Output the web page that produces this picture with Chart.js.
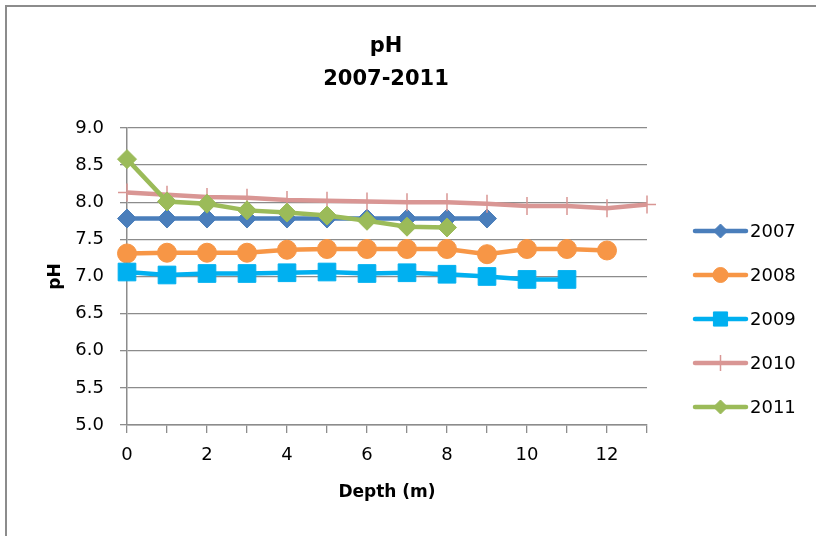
<!DOCTYPE html>
<html>
<head>
<meta charset="utf-8">
<script src="https://cdn.jsdelivr.net/npm/chart.js@4/dist/chart.umd.min.js"></script>
<style>
  html, body { margin: 0; padding: 0; background: #ffffff; }
  canvas { display: block; }
</style>
</head>
<body>
<canvas id="c" width="816" height="536"></canvas>
<script>
// ---- Data ----
const depths = [0, 1, 2, 3, 4, 5, 6, 7, 8, 9, 10, 11, 12, 13];
const seriesNames = ['2007', '2008', '2009', '2010', '2011'];
const ph2007 = [7.78, 7.78, 7.78, 7.78, 7.78, 7.78, 7.78, 7.78, 7.78, 7.78];
const ph2008 = [7.31, 7.32, 7.32, 7.32, 7.36, 7.37, 7.37, 7.37, 7.37, 7.30, 7.37, 7.37, 7.35];
const ph2009 = [7.06, 7.02, 7.04, 7.04, 7.05, 7.06, 7.04, 7.05, 7.03, 7.00, 6.96, 6.96];
const ph2010 = [8.13, 8.10, 8.07, 8.06, 8.03, 8.02, 8.01, 8.00, 8.00, 7.98, 7.95, 7.95, 7.92, 7.97];
const ph2011 = [8.58, 8.01, 7.98, 7.89, 7.86, 7.82, 7.75, 7.67, 7.66];
const yTicks = [5.0, 5.5, 6.0, 6.5, 7.0, 7.5, 8.0, 8.5, 9.0];
const xTickLabels = [0, 2, 4, 6, 8, 10, 12];

const seriesValues = [ph2007, ph2008, ph2009, ph2010, ph2011];
const colors = ['#4a7ebb', '#f79646', '#00b0f0', '#d99694', '#9bbb59'];
const styles = ['rectRot', 'circle', 'rect', 'cross', 'rectRot'];
const radii = [9.5, 9.5, 12.5, 9, 9.5];
const legendRadii = [7, 7.5, 10, 8, 7];
const borderWs = [1, 1, 1, 1.5, 1];

const FONT = "'DejaVu Sans', sans-serif";

const datasets = seriesNames.map((name, i) => ({
  label: name,
  data: seriesValues[i].map((v, k) => ({ x: depths[k], y: v })),
  borderColor: colors[i],
  backgroundColor: colors[i],
  borderWidth: 4.5,
  pointStyle: styles[i],
  pointRadius: radii[i],
  pointBorderWidth: borderWs[i],
  pointBorderColor: colors[i],
  pointBackgroundColor: colors[i],
  tension: 0,
  clip: false,
  order: seriesNames.length - i
}));

const framePlugin = {
  id: 'frame',
  beforeDraw(chart) {
    const ctx = chart.ctx;
    ctx.save();
    ctx.fillStyle = '#ffffff';
    ctx.fillRect(0, 0, chart.width, chart.height);
    ctx.strokeStyle = '#8c8c8c';
    ctx.lineWidth = 2;
    ctx.beginPath();
    ctx.moveTo(6, 536);
    ctx.lineTo(6, 6);
    ctx.lineTo(816, 6);
    ctx.stroke();
    ctx.restore();
  }
};

const legendPlugin = {
  id: 'sideLegend',
  afterDraw(chart) {
    const ctx = chart.ctx;
    const x0 = 695, x1 = 746, yStart = 231, gap = 44;
    ctx.save();
    chart.data.datasets.forEach((ds, i) => {
      const y = yStart + i * gap;
      ctx.strokeStyle = ds.borderColor;
      ctx.lineWidth = 4.5;
      ctx.lineCap = 'round';
      ctx.beginPath();
      ctx.moveTo(x0, y);
      ctx.lineTo(x1, y);
      ctx.stroke();
      ctx.fillStyle = ds.backgroundColor;
      ctx.strokeStyle = ds.borderColor;
      ctx.lineWidth = ds.pointBorderWidth;
      ctx.lineCap = 'butt';
      Chart.helpers.drawPoint(ctx, {
        pointStyle: ds.pointStyle,
        radius: legendRadii[i],
        rotation: 0,
        borderWidth: ds.pointBorderWidth
      }, (x0 + x1) / 2, y);
      ctx.fillStyle = '#000000';
      ctx.font = "18px " + FONT;
      ctx.textBaseline = 'middle';
      ctx.textAlign = 'left';
      ctx.fillText(ds.label, 750, y + 1);
    });
    ctx.restore();
  }
};

new Chart(document.getElementById('c'), {
  type: 'line',
  data: { datasets },
  plugins: [framePlugin, legendPlugin],
  options: {
    responsive: false,
    animation: false,
    events: [],
    layout: { padding: { left: 0, right: 44, top: 0, bottom: 0 } },
    plugins: {
      legend: { display: false },
      tooltip: { enabled: false },
      title: {
        display: true,
        text: ['pH', '2007-2011'],
        color: '#000000',
        font: { family: FONT, size: 21, weight: 'bold', lineHeight: 1.57 },
        padding: { top: 30.5, bottom: 31.5 }
      }
    },
    scales: {
      x: {
        type: 'linear',
        min: 0,
        max: 13,
        afterFit(scale) { scale.height = 111; },
        afterBuildTicks(scale) {
          scale.ticks = depths.map(v => ({ value: v }));
        },
        ticks: {
          autoSkip: false,
          maxRotation: 0,
          padding: 12,
          color: '#000000',
          font: { family: FONT, size: 18 },
          callback: (v) => xTickLabels.includes(v) ? String(v) : ''
        },
        grid: {
          display: true,
          drawOnChartArea: false,
          drawTicks: true,
          tickLength: 8,
          color: '#8c8c8c',
          lineWidth: 1.3
        },
        border: { display: true, color: '#8c8c8c', width: 1.5 },
        title: {
          display: true,
          text: 'Depth (m)',
          color: '#000000',
          font: { family: FONT, size: 17, weight: 'bold', lineHeight: 1.2 },
          padding: { top: 0, bottom: 33 }
        }
      },
      y: {
        type: 'linear',
        min: 5,
        max: 9,
        afterFit(scale) { scale.width = 127; },
        afterBuildTicks(scale) {
          scale.ticks = yTicks.map(v => ({ value: v }));
        },
        ticks: {
          padding: 16,
          color: '#000000',
          font: { family: FONT, size: 18 },
          callback: (v) => Number(v).toFixed(1)
        },
        grid: {
          display: true,
          drawOnChartArea: true,
          drawTicks: true,
          tickLength: 7,
          color: '#8c8c8c',
          lineWidth: 1.3
        },
        border: { display: true, color: '#8c8c8c', width: 1.5 },
        title: {
          display: true,
          text: 'pH',
          color: '#000000',
          font: { family: FONT, size: 17, weight: 'bold', lineHeight: 1.2 },
          padding: { top: 45, bottom: 0 }
        }
      },
      // empty right-hand box reserving space for the legend column
      legendSpace: {
        type: 'linear',
        position: 'right',
        display: true,
        afterFit(scale) { scale.width = 125; },
        ticks: { display: false },
        grid: { display: false, drawTicks: false },
        border: { display: false },
        title: { display: false }
      }
    }
  }
});
</script>
</body>
</html>
